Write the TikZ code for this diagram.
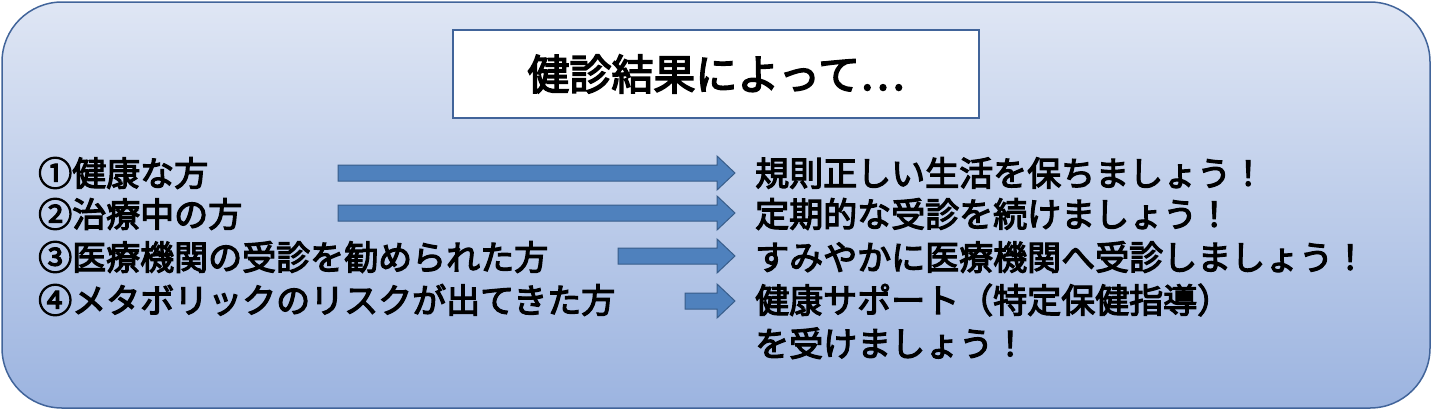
\documentclass[tikz,border=0pt]{standalone}
\usepackage{fontspec}
\setmainfont{Noto Sans CJK JP}[AutoFakeBold=3.5]
\usetikzlibrary{positioning}
\definecolor{panelline}{HTML}{41649A}
\definecolor{paneltop}{HTML}{DFE6F4}
\definecolor{panelbot}{HTML}{9CB4E0}
\definecolor{arrowfill}{HTML}{4F81BD}
\definecolor{arrowline}{HTML}{385D8A}
\tikzset{
  item/.style={anchor=west,inner sep=0pt,font=\fontsize{34}{34}\selectfont\bfseries},
  advice/.style={anchor=west,inner sep=0pt,font=\fontsize{34}{34}\selectfont\bfseries},
  goarrow/.style={draw=arrowline,fill=arrowfill,line width=1pt}
}
% block arrow: \blockarrow{x start}{x end}{y centre}
\newcommand{\blockarrow}[3]{%
  \draw[goarrow] (#1,#3-8) -- (#2-18,#3-8) -- (#2-18,#3-17) -- (#2,#3)
    -- (#2-18,#3+17) -- (#2-18,#3+8) -- (#1,#3+8) -- cycle;}
\begin{document}
\begin{tikzpicture}[x=1pt,y=-1pt]
\useasboundingbox (0,0) rectangle (1432,410);
\draw[panelline,line width=1.5pt,top color=paneltop,bottom color=panelbot,rounded corners=60pt]
  (2,2) rectangle (1430,408);
\node[draw=panelline,fill=white,line width=1.5pt,minimum width=526pt,minimum height=88pt,
  font=\fontsize{42}{42}\selectfont\bfseries] (title) at (716,74) {健診結果によって…};
% left column
\node[item] (h1) at (38,173) {①健康な方};
\node[item] (h2) at (38,214) {②治療中の方};
\node[item] (h3) at (38,257) {③医療機関の受診を勧められた方};
\node[item] (h4) at (38,300) {④メタボリックのリスクが出てきた方};
% right column
\node[advice] (a1) at (755,173) {規則正しい生活を保ちましょう！};
\node[advice] (a2) at (755,214) {定期的な受診を続けましょう！};
\node[advice] (a3) at (755,257) {すみやかに医療機関へ受診しましょう！};
\node[advice] (a4) at (755,300) {健康サポート（特定保健指導）};
\node[advice,below=11pt of a4.south west,anchor=north west] (a5) {を受けましょう！};
% arrows
\blockarrow{338}{735}{173}
\blockarrow{338}{735}{213}
\blockarrow{618}{735}{256}
\blockarrow{685}{735}{301}
\end{tikzpicture}
\end{document}
